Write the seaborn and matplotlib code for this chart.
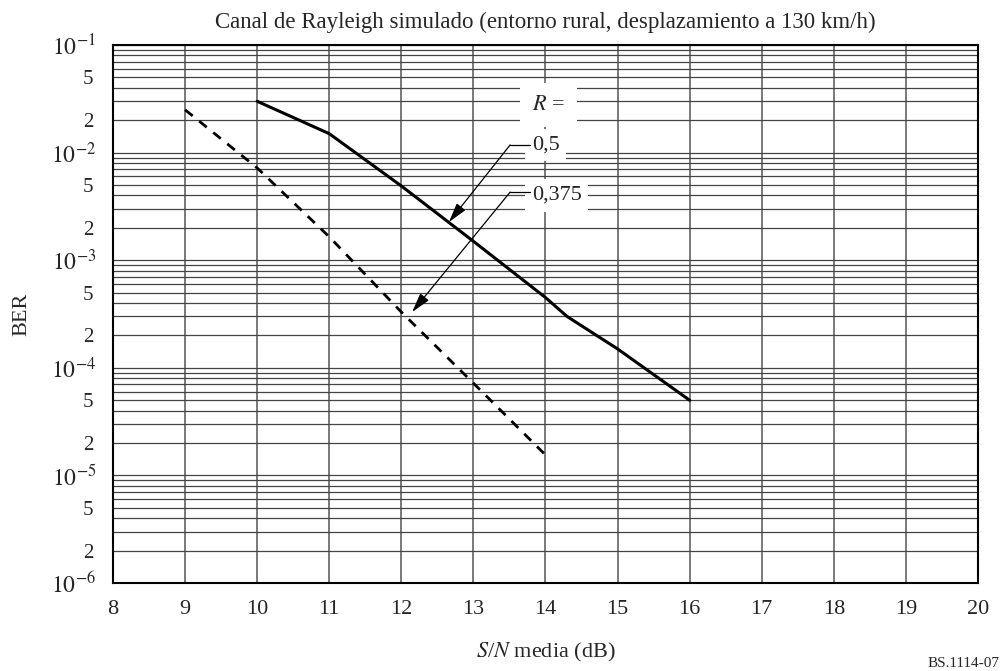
import numpy as np
import pandas as pd
import matplotlib.pyplot as plt
import matplotlib.ticker as mticker
import seaborn as sns

# Data
snr_05 = [10, 11, 12, 13, 14, 14.3, 15, 16]
ber_05 = [3.0e-2, 1.5e-2, 4.9e-3, 1.5e-3, 4.5e-4, 3.0e-4, 1.5e-4, 5.0e-5]

snr_0375 = [9, 10, 11, 12, 13, 14]
ber_0375 = [2.5e-2, 7.2e-3, 1.65e-3, 3.3e-4, 7.2e-5, 1.55e-5]

x_ticks = list(range(8, 21))
title = "Canal de Rayleigh simulado (entorno rural, desplazamiento a 130 km/h)"

sns.set_theme(style="white")
plt.rcParams['font.family'] = ['Liberation Serif', 'DejaVu Serif']
plt.rcParams['mathtext.fontset'] = 'stix'

fig = plt.figure(figsize=(10.03, 6.71), dpi=100)
ax = fig.add_axes([0.1127, 0.1311, 0.8623, 0.8018])

df05 = pd.DataFrame({"snr": snr_05, "ber": ber_05})
df0375 = pd.DataFrame({"snr": snr_0375, "ber": ber_0375})
sns.lineplot(data=df05, x="snr", y="ber", ax=ax, color="black", linewidth=2.2, zorder=5)
sns.lineplot(data=df0375, x="snr", y="ber", ax=ax, color="black", linewidth=2,
             linestyle=(0, (3.5, 3)), zorder=5)

ax.set_yscale("log")
ax.set_xlim(8, 20)
ax.set_ylim(1e-6, 1e-1)
ax.set_xticks(x_ticks)
ax.set_xticklabels([str(v) for v in x_ticks], fontsize=16)

ax.yaxis.set_major_locator(mticker.LogLocator(base=10, numticks=10))
ax.yaxis.set_major_formatter(mticker.FuncFormatter(
    lambda v, p: r"$10^{%d}$" % round(np.log10(v))))
ax.yaxis.set_minor_locator(mticker.LogLocator(base=10, subs=np.arange(2, 10), numticks=20))


def minor_fmt(v, p):
    m = round(v / 10 ** np.floor(np.log10(v) + 1e-9))
    return str(m) if m in (2, 5) else ""


ax.yaxis.set_minor_formatter(mticker.FuncFormatter(minor_fmt))
ax.tick_params(axis="y", which="major", labelsize=17, length=0, pad=12)
ax.tick_params(axis="y", which="minor", labelsize=15, length=0, pad=14)
ax.tick_params(axis="x", length=0, pad=12)

ax.grid(True, which="major", axis="x", color="#555555", linewidth=1.1)
ax.grid(True, which="both", axis="y", color="#444444", linewidth=0.9)
for s in ax.spines.values():
    s.set_color("black")
    s.set_linewidth(1.5)

ax.set_xlabel(r"$\it{S}$/$\it{N}$ media (dB)", fontsize=16, labelpad=16)
ax.set_ylabel("BER", fontsize=16, labelpad=14)
ax.set_title(title, fontsize=16.5, pad=12)

# Annotations
ax.text(13.81, 2.77e-2, r"$\it{R}$ =", fontsize=16, va="center", ha="left",
        bbox=dict(facecolor="white", edgecolor="none", boxstyle="square,pad=0.55"), zorder=6)
ax.text(13.81, 1.18e-2, "0,5", fontsize=16, va="center", ha="left",
        bbox=dict(facecolor="white", edgecolor="none", boxstyle="square,pad=0.3"), zorder=6)
ax.text(13.81, 4.0e-3, "0,375", fontsize=16, va="center", ha="left",
        bbox=dict(facecolor="white", edgecolor="none", boxstyle="square,pad=0.3"), zorder=6)
ax.plot([13.51, 13.78], [1.18e-2, 1.18e-2], color="black", linewidth=0.9, zorder=7)
ax.plot([13.51, 13.78], [4.3e-3, 4.3e-3], color="black", linewidth=0.9, zorder=7)
arrow = dict(arrowstyle="-|>,head_length=1.0,head_width=0.28", color="black",
             linewidth=0.9, shrinkA=0, shrinkB=0)
ax.annotate("", xy=(12.66, 2.26e-3), xytext=(13.51, 1.18e-2), arrowprops=arrow, zorder=7)
ax.annotate("", xy=(12.15, 3.3e-4), xytext=(13.51, 4.3e-3), arrowprops=arrow, zorder=7)

fig.text(0.997, 0.002, "BS.1114-07", fontsize=11, va="bottom", ha="right")

fig.savefig("out.png", dpi=100)
